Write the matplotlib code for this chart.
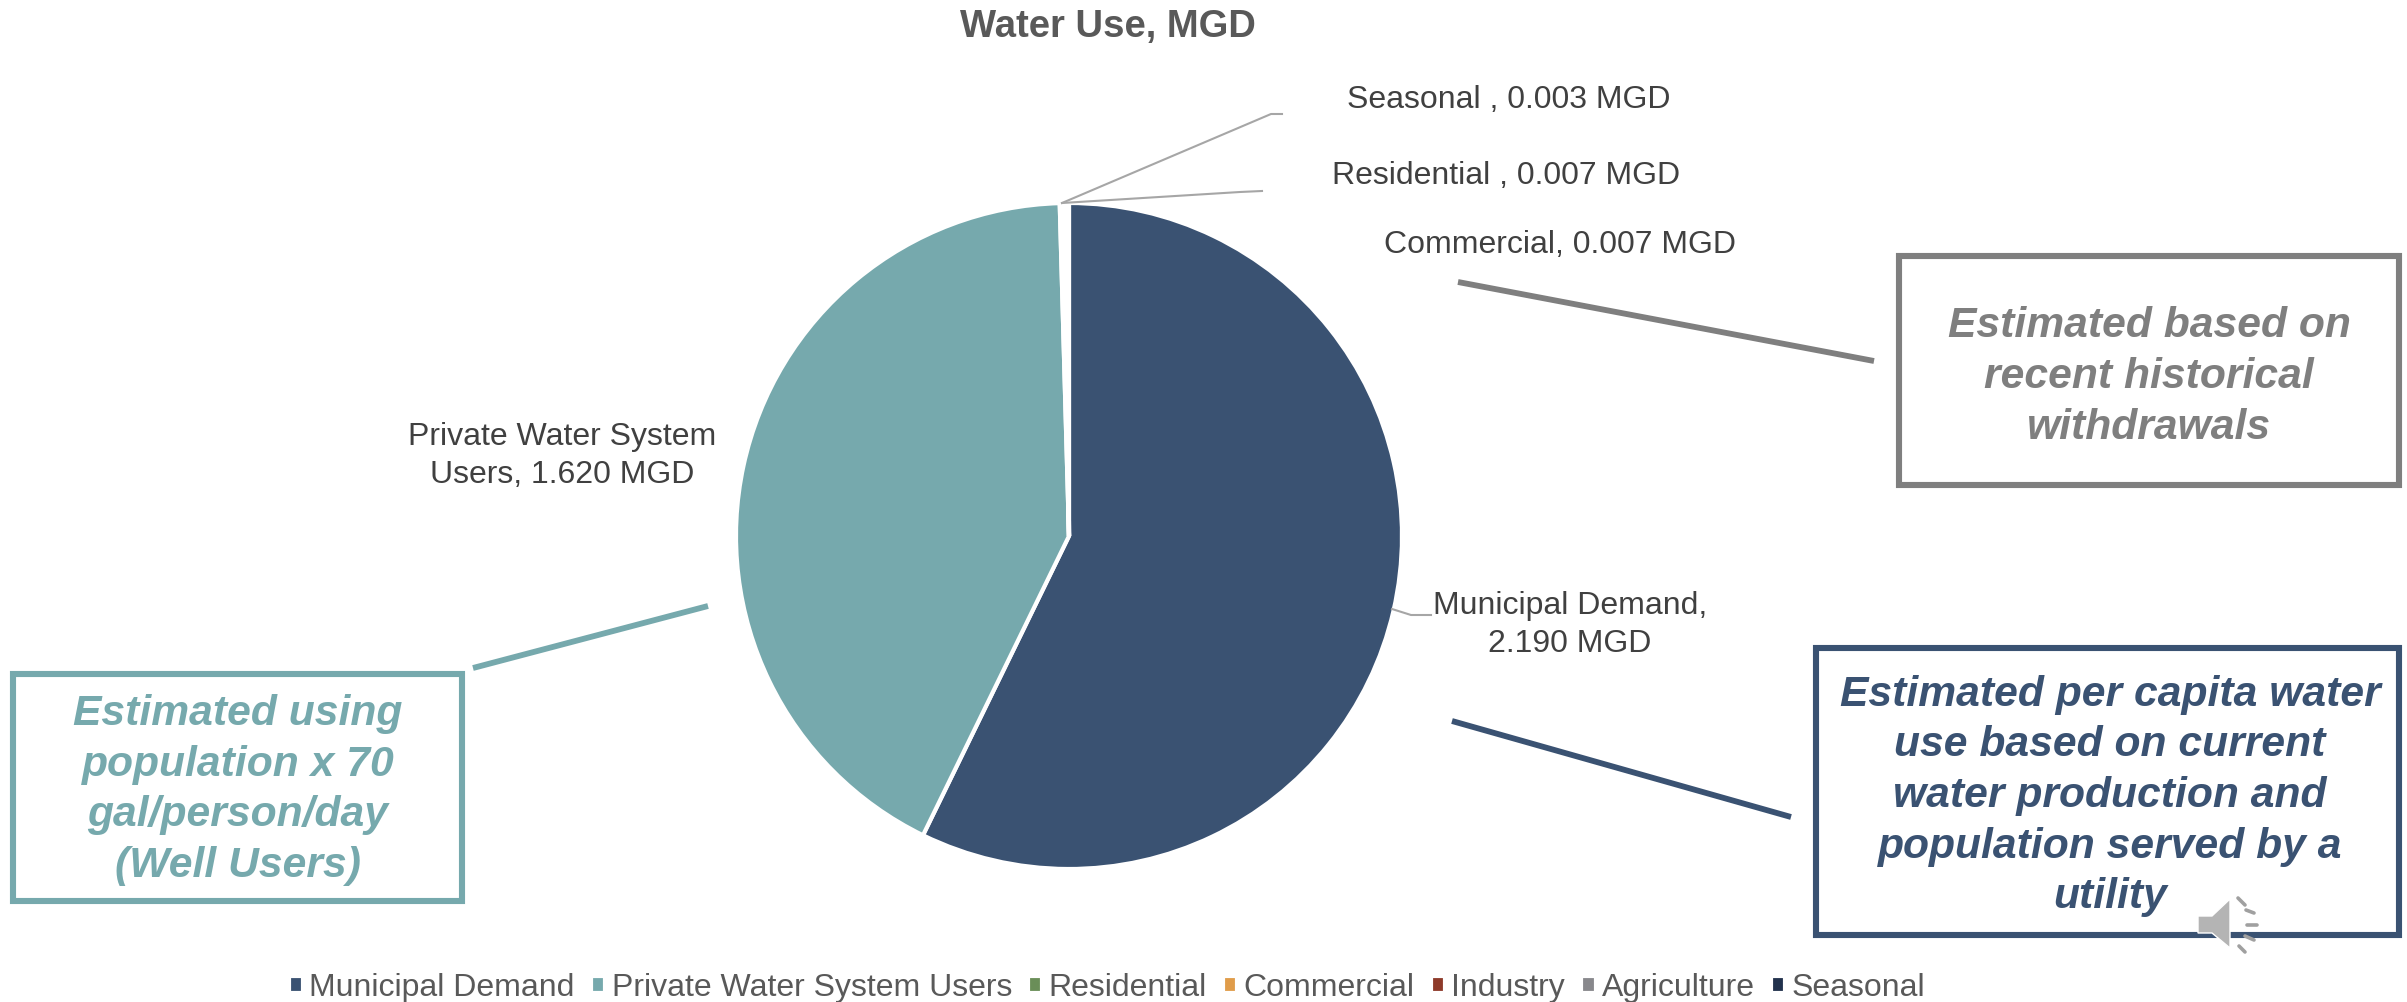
import matplotlib
matplotlib.use("Agg")
import matplotlib.pyplot as plt
from matplotlib.patches import Polygon, Rectangle

plt.rcParams["font.family"] = ["Liberation Sans", "DejaVu Sans"]

categories = ["Municipal Demand", "Private Water System Users", "Residential",
              "Commercial", "Industry", "Agriculture", "Seasonal"]
water_use = [2.190, 1.620, 0.007, 0.007, 0.0, 0.0, 0.003]
colors = ["#3A5272", "#76A9AD", "#6A8E58", "#E09C4A", "#8E3A2A", "#88888C", "#22324D"]

W, H = 2407, 1002
NAVY, TEAL, GRAY = "#3A5272", "#76A9AD", "#7F7F7F"
LABEL = "#404040"


def y(py):
    # picture pixels count from the top
    return H - py


fig = plt.figure(figsize=(W / 100, H / 100), dpi=100)
ax = fig.add_axes([0, 0, 1, 1])

wedges, _ = ax.pie(water_use, colors=colors, startangle=90, counterclock=False,
                   center=(1069, y(536)), radius=333,
                   wedgeprops={"edgecolor": "white", "linewidth": 3})
ax.set_xlim(0, W)
ax.set_ylim(0, H)
ax.set_aspect("equal")
ax.axis("off")

ax.text(1108, y(27), "Water Use, MGD", ha="center", va="center",
        fontsize=27.5, fontweight="bold", color="#595959")

# data labels
ax.text(1509, y(100), "Seasonal , 0.003 MGD", ha="center", va="center", fontsize=23, color=LABEL)
ax.text(1506, y(176), "Residential , 0.007 MGD", ha="center", va="center", fontsize=23, color=LABEL)
ax.text(1560, y(245), "Commercial, 0.007 MGD", ha="center", va="center", fontsize=23, color=LABEL)
ax.text(562, y(456), "Private Water System\nUsers, 1.620 MGD", ha="center", va="center",
        fontsize=23, color=LABEL, linespacing=1.33)
ax.text(1570, y(625), "Municipal Demand,\n2.190 MGD", ha="center", va="center",
        fontsize=23, color=LABEL, linespacing=1.33)

# leader lines
ax.plot([1062, 1271, 1282], [y(203), y(114), y(114)], color="#A6A6A6", lw=1.5)
ax.plot([1062, 1240, 1262], [y(203), y(192), y(191)], color="#A6A6A6", lw=1.5)
ax.plot([1392, 1411, 1431], [y(609), y(615), y(615)], color="#A6A6A6", lw=1.5)

# callout connectors
ax.plot([1458, 1874], [y(282), y(361)], color=GRAY, lw=4.2, solid_capstyle="butt")
ax.plot([473, 708], [y(668), y(606)], color=TEAL, lw=4.2, solid_capstyle="butt")
ax.plot([1452, 1791], [y(721), y(817)], color=NAVY, lw=4.2, solid_capstyle="butt")

# callout boxes
for x0, y0, x1, y1, col in [(1899, 256, 2399, 485, GRAY),
                            (13, 674, 462, 901, TEAL),
                            (1816, 648, 2399, 935, NAVY)]:
    ax.add_patch(Rectangle((x0, y(y1)), x1 - x0, y1 - y0, fill=False, edgecolor=col, lw=4.4))

ax.text(2149, y(377), "Estimated based on\nrecent historical\nwithdrawals", ha="center", va="center",
        fontsize=30.7, fontweight="bold", fontstyle="italic", color=GRAY, linespacing=1.34)
ax.text(238, y(790), "Estimated using\npopulation x 70\ngal/person/day\n(Well Users)", ha="center", va="center",
        fontsize=30.7, fontweight="bold", fontstyle="italic", color=TEAL, linespacing=1.34)
ax.text(2110, y(796), "Estimated per capita water\nuse based on current\nwater production and\npopulation served by a\nutility",
        ha="center", va="center", fontsize=30.7, fontweight="bold", fontstyle="italic", color=NAVY, linespacing=1.34)

# speaker icon
ax.add_patch(Polygon([(2198, y(916)), (2198, y(933)), (2212, y(933)), (2230, y(948)),
                      (2230, y(899)), (2212, y(916))],
                     closed=True, facecolor="#B4B4B4", edgecolor="white", lw=1, zorder=5))
for x0, y0, x1, y1 in [(2238, 898, 2245, 905), (2246, 910, 2254, 913), (2247, 925, 2257, 925),
                       (2245, 936, 2254, 940), (2239, 946, 2245, 952)]:
    ax.plot([x0, x1], [y(y0), y(y1)], color="#A0A0A0", lw=2.6, solid_capstyle="round", zorder=5)

ax.legend(wedges, categories, loc="center", bbox_to_anchor=(1107 / W, y(988) / H),
          bbox_transform=fig.transFigure, ncol=7, frameon=False, fontsize=23,
          labelcolor="#595959", handlelength=0.45, handleheight=0.45,
          handletextpad=0.2, columnspacing=0.5, borderpad=0, borderaxespad=0)

plt.savefig("out.png", dpi=100)
